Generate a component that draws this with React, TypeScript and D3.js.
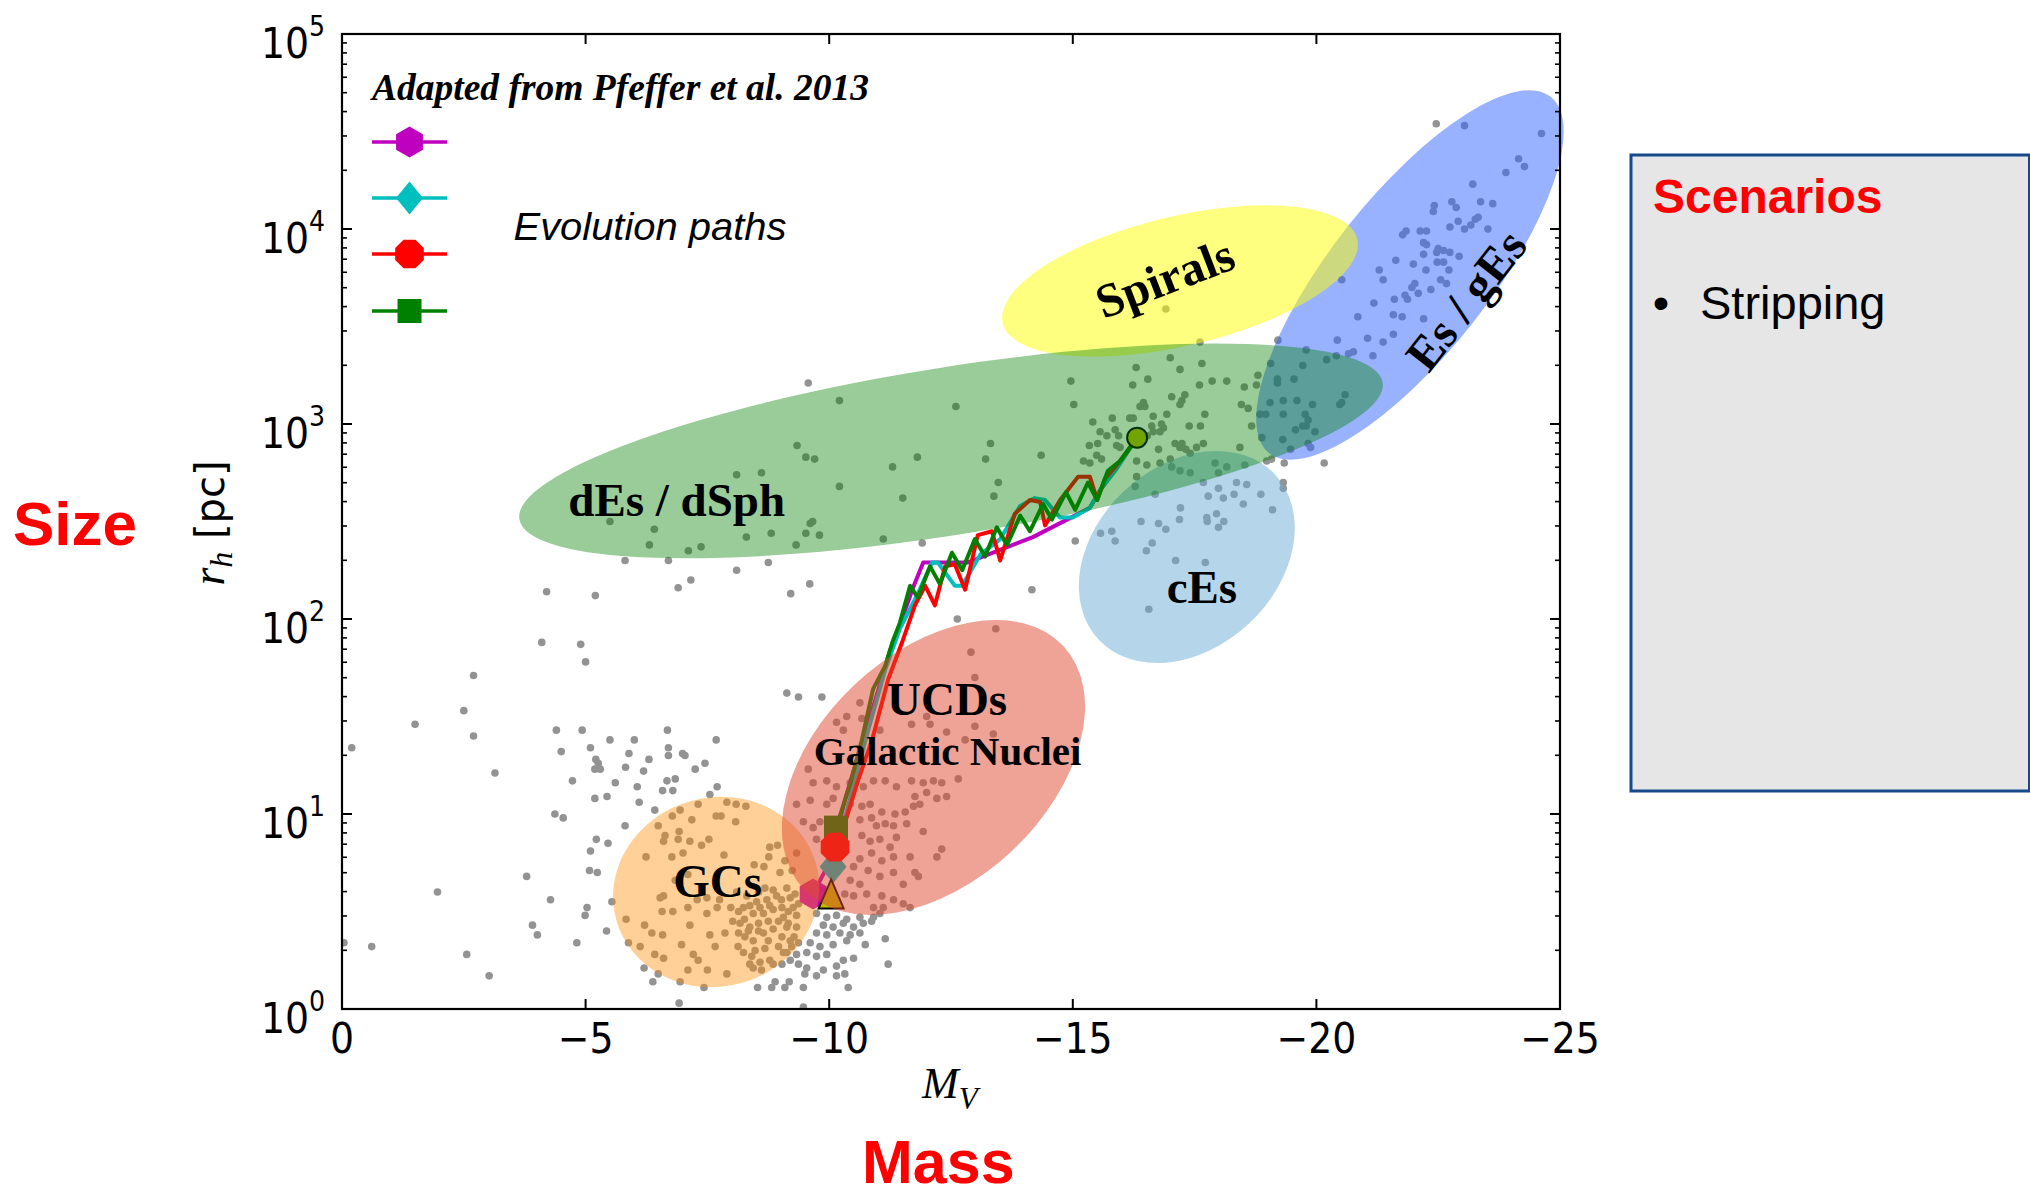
import React from "react";
import * as d3 from "d3";

// ---------- data ----------
// x: absolute V magnitude, y: log10 of the half-light radius in pc

const xTicks = [0, -5, -10, -15, -20, -25];
const yDecades = [0, 1, 2, 3, 4, 5];

// Catalogue of observed stellar systems: [M_V, log10 r_h]
const objects: [number, number][] = [
  [-4.20,2.14],[-5.20,2.12],[-6.90,2.16],[-7.16,2.20],[-8.10,2.25],[-8.75,2.29],[-9.21,2.13],[-6.70,2.30],[-5.81,2.30],
  [-4.10,1.88],[-4.90,1.87],[-5.00,1.78],[-2.70,1.71],[-2.50,1.53],[-1.50,1.46],[-2.70,1.40],[-0.20,1.34],[-3.14,1.21],
  [-4.40,1.43],[-4.93,1.43],[-4.50,1.32],[-5.10,1.34],[-5.21,1.28],[-5.26,1.26],[-5.19,1.23],[-5.30,1.23],[-5.50,1.38],[-6.00,1.38],[-5.89,1.31],[-5.82,1.24],[-6.30,1.28],[-6.19,1.22],[-6.68,1.43],[-6.70,1.34],[-6.70,1.30],[-6.99,1.31],[-7.04,1.30],[-7.68,1.38],[-7.45,1.26],[-7.25,1.23],[-4.73,1.17],[-5.61,1.16],[-6.06,1.14],[-6.67,1.17],[-6.84,1.18],[-6.58,1.12],[-6.79,1.12],[-7.70,1.14],[-7.55,1.10],[-5.19,1.08],[-5.44,1.09],[-6.10,1.06],[-6.42,1.02],
  [-9.13,1.62],[-9.37,1.60],
  [-4.37,1.00],[-4.54,0.98],[-5.22,0.87],[-5.46,0.85],[-5.81,0.94],[-5.10,0.81],[-5.08,0.71],[-5.24,0.70],[-3.79,0.68],[-1.96,0.60],[-4.28,0.56],[-5.54,0.55],[-5.03,0.52],[-4.99,0.48],[-3.91,0.43],[-4.01,0.38],[-5.43,0.40],[-4.82,0.34],[-0.04,0.34],[-0.61,0.32],[-2.56,0.28],[-3.02,0.17],[-5.88,0.34],
  [-6.94,1.02],[-7.31,1.05],[-7.90,1.06],[-8.09,1.05],[-8.29,1.04],[-6.78,0.99],[-7.18,0.97],[-7.68,0.99],[-7.78,0.99],[-8.08,0.96],[-6.49,0.94],[-6.63,0.89],[-6.92,0.91],[-6.60,0.86],[-6.90,0.87],[-7.14,0.86],[-7.38,0.84],[-7.53,0.87],[-6.24,0.78],[-6.77,0.78],[-7.00,0.80],[-7.84,0.79],[-8.78,0.83],[-8.94,0.84],[-8.76,0.78],[-8.46,0.74],[-8.66,0.73],[-8.99,0.70],[-9.09,0.76],[-9.24,0.71],[-9.33,0.80],
  [-6.84,0.66],[-7.10,0.69],[-6.53,0.57],[-6.60,0.58],[-7.29,0.56],[-7.49,0.57],[-7.75,0.56],[-6.57,0.50],[-6.79,0.50],[-7.10,0.52],[-7.49,0.49],[-7.70,0.52],[-7.98,0.52],[-8.14,0.50],[-8.37,0.53],[-8.51,0.55],[-8.72,0.56],[-8.92,0.58],[-9.13,0.62],[-9.30,0.59],
  [-5.83,0.46],[-6.21,0.43],[-6.36,0.39],[-6.58,0.38],[-7.14,0.43],[-7.55,0.38],[-7.86,0.39],[-8.02,0.45],[-8.26,0.46],[-8.44,0.49],[-8.65,0.49],[-8.85,0.51],[-9.06,0.47],[-9.26,0.52],
  [-6.12,0.32],[-6.42,0.28],[-6.60,0.26],[-6.97,0.33],[-7.21,0.28],[-7.31,0.25],[-7.66,0.32],[-8.13,0.32],[-8.27,0.37],[-8.44,0.35],[-8.65,0.39],[-8.85,0.41],[-9.13,0.42],[-9.28,0.37],
  [-6.20,0.21],[-6.49,0.18],[-7.10,0.20],[-7.50,0.20],[-7.90,0.18],[-8.41,0.27],[-8.44,0.21],[-8.58,0.24],[-8.78,0.25],[-8.85,0.23],[-9.06,0.29],[-9.23,0.32],
  [-6.38,0.14],[-6.94,0.14],[-7.43,0.11],[-8.53,0.11],[-8.82,0.11],[-8.89,0.14],[-9.09,0.11],[-9.18,0.14],[-6.92,0.03],
  [-8.10,0.60],[-8.31,0.58],[-8.55,0.60],[-8.68,0.62],[-8.85,0.61],[-9.02,0.56],[-9.20,0.57],[-9.37,0.54],[-8.24,0.52],[-8.58,0.52],[-8.78,0.53],[-9.03,0.52],[-9.16,0.50],[-9.33,0.48],[-8.17,0.44],[-8.37,0.42],[-8.55,0.44],[-8.75,0.45],[-8.96,0.45],[-9.16,0.44],[-9.33,0.42],[-8.14,0.39],[-8.34,0.40],[-8.55,0.40],[-8.75,0.35],[-9.03,0.37],[-9.20,0.35],[-9.37,0.34],[-8.24,0.29],[-8.48,0.30],[-8.68,0.31],[-8.96,0.32],[-9.13,0.29],[-9.33,0.28],[-8.37,0.23],[-8.61,0.20],[-9.03,0.23],[-9.20,0.25],[-9.37,0.23],
  [-9.85,1.60],[-12.91,1.83],[-12.99,1.70],
  [-10.63,1.57],[-10.36,1.50],[-10.15,1.47],[-10.29,1.43],[-10.67,1.49],[-12.07,1.46],[-12.00,1.50],[-12.41,1.42],[-12.79,1.38],[-12.99,1.45],[-13.37,1.41],[-11.69,1.46],[-11.04,1.43],
  [-9.57,1.23],[-9.67,1.16],[-9.95,1.17],[-10.15,1.14],[-10.43,1.16],[-10.70,1.14],[-10.91,1.17],[-11.15,1.17],[-11.38,1.14],[-11.69,1.17],[-11.93,1.16],[-12.14,1.17],[-12.31,1.16],[-12.65,1.18],[-12.41,1.09],[-12.21,1.08],[-12.00,1.11],[-11.76,1.09],
  [-9.33,1.05],[-9.61,1.07],[-9.95,1.05],[-10.08,1.08],[-10.43,1.05],[-10.67,1.04],[-10.84,1.05],[-11.08,1.01],[-11.35,1.00],[-11.56,1.01],[-11.73,1.04],[-11.86,1.05],
  [-9.47,0.96],[-9.67,0.93],[-9.81,0.96],[-10.63,0.97],[-10.87,0.98],[-10.97,0.94],[-11.15,0.95],[-11.32,0.94],[-11.59,0.95],[-11.38,0.88],[-11.25,0.83],[-11.93,0.91],[-12.31,0.82],[-12.21,0.78],
  [-9.74,0.87],[-10.67,0.89],[-10.84,0.86],[-11.04,0.87],[-11.66,0.78],[-11.32,0.78],[-11.08,0.76],[-10.87,0.80],[-10.63,0.77],[-10.50,0.73],[-10.80,0.71],[-11.04,0.68],[-11.32,0.70],[-11.52,0.64],[-11.76,0.70],[-11.83,0.68],[-10.63,0.64],[-10.43,0.66],[-10.32,0.59],[-10.50,0.58],[-10.77,0.59],[-11.08,0.58],[-11.32,0.56],[-11.52,0.54],[-11.11,0.52],[-11.66,0.52],[-10.91,0.52],
  [-9.74,0.49],[-9.95,0.47],[-10.15,0.48],[-10.36,0.46],[-10.63,0.47],[-10.91,0.47],[-11.04,0.49],[-9.88,0.43],[-10.08,0.42],[-10.29,0.44],[-10.50,0.42],[-10.70,0.44],[-10.87,0.45],[-9.74,0.39],[-9.95,0.38],[-10.22,0.39],[-10.43,0.38],[-10.63,0.39],[-11.15,0.36],[-9.61,0.34],[-9.81,0.32],[-10.08,0.33],[-10.36,0.35],[-10.74,0.33],[-9.54,0.29],[-9.74,0.27],[-9.95,0.28],[-10.29,0.25],[-10.50,0.26],[-9.54,0.21],[-9.88,0.20],[-10.15,0.22],[-10.32,0.18],[-11.21,0.23],[-9.47,0.11],[-9.74,0.17],[-9.50,0.18],[-10.39,0.11],[-10.15,0.17],[-9.47,0.01],
  [-13.42,1.95],
  [-16.91,3.59],[-17.61,3.42],[-17.00,3.34],[-17.65,3.31],[-17.20,3.28],[-16.30,3.29],[-16.54,3.23],[-16.23,3.20],[-14.96,3.22],[-15.02,3.10],[-12.60,3.09],[-17.86,3.22],[-18.16,3.22],[-17.60,3.20],[-17.03,3.14],[-17.30,3.15],[-17.24,3.12],[-17.20,3.10],[-16.45,3.11],[-16.38,3.09],[-16.48,3.09],[-17.71,3.05],[-16.93,3.05],[-16.65,3.04],[-16.17,3.03],[-16.24,3.03],[-15.81,3.03],[-15.41,3.01],[-16.62,2.99],[-16.82,3.00],[-17.39,2.99],[-17.62,2.99],[-15.87,2.97],[-15.56,2.96],[-15.70,2.94],[-15.94,2.94],[-16.65,2.96],[-16.79,2.96],[-16.86,2.98],[-16.53,2.94],[-17.10,2.90],[-17.24,2.90],[-17.68,2.90],[-15.34,2.89],[-15.51,2.90],[-15.90,2.89],[-15.97,2.88],[-16.76,2.87],[-17.00,2.82],[-17.32,2.87],[-17.41,2.85],[-17.20,2.88],[-17.54,2.88],[-13.31,2.90],[-11.81,2.83],[-14.35,2.84],[-13.21,2.82],[-11.30,2.78],[-15.22,2.81],[-15.35,2.80],[-15.49,2.84],[-15.59,2.82],[-16.31,2.81],[-16.52,2.79],[-16.79,2.80],[-17.03,2.78],[-17.20,2.76],[-17.41,2.75],[-17.92,2.80],[-18.16,2.78],[-13.47,2.70],[-11.51,2.62],[-13.38,2.63],[-16.31,2.73],[-16.28,2.68],[-11.11,2.41],[-11.91,2.39],[-15.05,2.40],[-14.16,2.15],[-12.63,2.00],
  [-16.69,2.64],[-17.68,2.70],[-17.99,2.75],[-17.99,2.67],[-17.78,2.63],[-18.09,2.62],[-17.21,2.57],[-17.19,2.51],[-16.40,2.50],[-16.76,2.49],[-16.91,2.46],[-17.75,2.52],[-17.95,2.54],[-18.10,2.50],[-17.99,2.47],[-17.76,2.50],[-15.57,2.44],[-15.80,2.45],[-15.87,2.40],[-16.63,2.39],[-16.51,2.35],[-17.11,2.30],[-17.72,2.29],[-16.56,2.05],
  [-18.36,2.70],[-18.57,2.69],[-18.31,2.64],[-18.50,2.59],[-18.86,2.64],[-19.10,2.56],[-19.32,2.70],[-19.32,2.67],
  [-22.46,4.54],[-23.04,4.53],[-24.62,4.49],[-24.15,4.36],[-24.27,4.32],[-23.89,4.29],[-23.21,4.23],[-22.42,4.12],[-22.40,4.09],[-22.78,4.14],[-22.87,4.11],[-23.37,4.14],[-23.62,4.13],[-23.32,4.06],[-23.26,4.05],[-23.17,4.02],[-22.91,4.04],[-22.74,4.01],[-23.04,4.00],[-23.52,4.00],[-22.26,3.99],[-22.13,3.99],[-21.77,3.97],[-21.84,3.99],[-22.20,3.93],[-22.26,3.92],[-22.50,3.90],[-22.61,3.89],[-22.74,3.88],[-22.47,3.88],[-22.20,3.87],[-22.93,3.86],[-21.63,3.84],[-21.99,3.82],[-22.25,3.79],[-22.48,3.83],[-22.61,3.83],[-22.72,3.79],[-21.29,3.79],[-21.37,3.74],[-20.52,3.74],[-22.02,3.72],[-21.96,3.70],[-22.09,3.67],[-22.35,3.69],[-22.55,3.74],[-22.67,3.72],[-21.82,3.66],[-21.87,3.64],[-21.60,3.64],[-21.18,3.62],[-21.58,3.56],[-21.76,3.55],[-22.20,3.54],[-20.85,3.55],[-21.58,3.46],[-21.37,3.42],[-21.05,3.44],[-20.43,3.43],[-19.21,3.43],[-21.16,3.35],[-20.76,3.37],[-20.66,3.36],[-20.41,3.35],[-20.21,3.33],[-19.79,3.38],[-19.06,3.31],[-19.72,3.30],[-18.80,3.25],[-18.52,3.19],[-18.77,3.20],[-19.20,3.23],[-19.20,3.21],[-19.54,3.23],[-20.59,3.15],[-20.48,3.10],[-20.52,3.11],[-19.92,3.10],[-19.60,3.12],[-19.32,3.12],[-19.05,3.11],[-18.46,3.10],[-18.60,3.08],[-18.84,3.05],[-18.96,3.05],[-19.32,3.05],[-19.77,3.05],[-19.83,3.02],[-19.79,2.99],[-19.57,2.97],[-19.72,2.99],[-19.97,2.96],[-18.67,2.99],[-18.88,2.93],[-19.31,2.92],[-19.47,2.87],[-19.83,2.90],[-19.88,2.88],[-18.43,2.88],[-18.98,2.81],[-19.08,2.82],[-19.34,2.80],[-20.16,2.80],[-18.53,2.79],
  [-9.57,3.21],[-10.21,3.12],[-9.34,2.89],[-9.52,2.83],[-9.70,2.82],[-8.10,2.74],[-8.61,2.75],[-10.21,2.68],[-5.50,2.50],[-6.41,2.46],[-9.61,2.49],[-9.66,2.50],[-9.52,2.44],[-9.80,2.43],[-8.81,2.44],[-8.30,2.42],[-6.31,2.38],[-7.11,2.35],[-7.37,2.37],[-9.32,2.38],[-9.60,2.18],
];

// Stripping tracks, [M_V, log10 r_h]
const trackMagenta: [number, number][] = [
  [-9.67,0.59],[-10.02,0.76],[-10.32,1.07],[-10.63,1.33],[-10.94,1.58],[-11.25,1.84],[-11.41,1.94],[-11.72,2.16],[-11.93,2.29],[-12.85,2.29],[-14.18,2.42],[-15.35,2.57],[-15.56,2.66],[-15.91,2.78],[-16.32,2.93],
];
const trackCyan: [number, number][] = [
  [-10.08,0.73],[-10.18,0.84],[-10.47,1.12],[-10.80,1.43],[-11.15,1.74],[-11.45,1.95],[-11.82,2.13],[-12.11,2.29],[-12.23,2.29],[-12.58,2.17],[-12.73,2.17],[-13.10,2.33],[-13.51,2.41],[-13.92,2.58],[-14.22,2.62],[-14.43,2.61],[-14.74,2.52],[-15.00,2.52],[-15.35,2.57],[-15.56,2.66],[-15.87,2.76],[-16.32,2.93],
];
const trackRed: [number, number][] = [
  [-10.12,0.83],[-10.28,0.92],[-10.59,1.17],[-10.88,1.38],[-11.21,1.69],[-11.51,1.89],[-11.76,2.07],[-11.97,2.17],[-12.17,2.07],[-12.38,2.27],[-12.58,2.28],[-12.79,2.15],[-13.05,2.43],[-13.34,2.45],[-13.51,2.30],[-13.81,2.54],[-14.12,2.61],[-14.33,2.60],[-14.43,2.48],[-14.74,2.61],[-15.11,2.73],[-15.35,2.73],[-15.50,2.61],[-15.66,2.72],[-15.97,2.81],[-16.32,2.93],
];
const trackGreen: [number, number][] = [
  [-16.32,2.93],[-15.97,2.81],[-15.72,2.76],[-15.50,2.61],[-15.31,2.70],[-15.05,2.56],[-14.86,2.65],[-14.57,2.51],[-14.39,2.59],[-14.12,2.45],[-13.92,2.53],[-13.65,2.38],[-13.44,2.47],[-13.20,2.32],[-12.99,2.41],[-12.73,2.25],[-12.52,2.34],[-12.27,2.18],[-12.07,2.27],[-11.82,2.11],[-11.66,2.17],[-11.45,1.98],[-11.31,1.89],[-11.15,1.76],[-10.90,1.64],[-10.67,1.38],[-10.43,1.15],[-10.14,0.93],
];

// Remnants and progenitor, [M_V, log10 r_h]
const remnantMagenta: [number, number] = [-9.67, 0.59];
const remnantCyan: [number, number] = [-10.08, 0.73];
const remnantGreen: [number, number] = [-10.14, 0.93];
const remnantRed: [number, number] = [-10.12, 0.83];
const observedObject: [number, number] = [-10.04, 0.59];
const progenitor: [number, number] = [-16.32, 2.93];

// Population regions: centre [M_V, log10 r_h], semi-axes in magnitudes, tilt in degrees
const regionNames = ["Es", "Spirals", "cEs", "dEs", "GCs", "UCDs"];
const regionCentres: [number, number][] = [
  [-21.92, 3.764], [-17.20, 3.733], [-17.34, 2.318], [-12.50, 2.862], [-7.68, 0.60], [-12.14, 1.238],
];
const regionAxes: [number, number][] = [
  [4.66, 1.62], [3.74, 1.33], [2.48, 1.87], [8.97, 1.72], [2.13, 1.94], [3.65, 2.35],
];
const regionTilt = [51.7, 13.3, 43.1, 9.0, 15.5, 43.1];

// ---------- styling ----------
const W = 2030;
const H = 1197;
const frame = { left: 342, right: 1560, top: 34, bottom: 1009 };

const regionFill: Record<string, [string, number]> = {
  Es: ["#3366ff", 0.5],
  Spirals: ["#ffff00", 0.5],
  cEs: ["#6baed6", 0.5],
  dEs: ["#008000", 0.4],
  GCs: ["#ff8c00", 0.4],
  UCDs: ["#de482e", 0.5],
};

const C_MAG = "#bf00bf";
const C_CYAN = "#00bfbf";
const C_RED = "#ff0000";
const C_GREEN = "#008000";
const C_YEL = "#bfbf00";

const tickFont = "'DejaVu Sans', 'Liberation Sans', sans-serif";
const serifFont = "'Liberation Serif', 'Times New Roman', serif";
const sansFont = "'Liberation Sans', Arial, sans-serif";

function polygon(n: number, r: number, start: number) {
  const pts: string[] = [];
  for (let i = 0; i < n; i++) {
    const a = ((start + (360 / n) * i) * Math.PI) / 180;
    pts.push(`${(r * Math.cos(a)).toFixed(2)},${(r * Math.sin(a)).toFixed(2)}`);
  }
  return pts.join(" ");
}

const hexagonPts = polygon(6, 15.5, -90);
const octagonPts = polygon(8, 15.5, -90 + 22.5);
const diamondPts = "0,-16.5 13.5,0 0,16.5 -13.5,0";
const trianglePts = "0,-14.5 12.5,14.5 -12.5,14.5";

function Marker({ kind, color, cx, cy }: { kind: string; color: string; cx: number; cy: number }) {
  const t = `translate(${cx},${cy})`;
  if (kind === "hexagon") return <polygon points={hexagonPts} transform={t} fill={color} />;
  if (kind === "octagon") return <polygon points={octagonPts} transform={t} fill={color} />;
  if (kind === "diamond") return <polygon points={diamondPts} transform={t} fill={color} />;
  if (kind === "square") return <rect x={-12} y={-12} width={24} height={24} transform={t} fill={color} />;
  if (kind === "triangle")
    return <polygon points={trianglePts} transform={t} fill={color} stroke="#000" strokeWidth={2} strokeLinejoin="miter" />;
  return <circle cx={cx} cy={cy} r={10} fill={color} stroke="#000" strokeWidth={2} />;
}

export default function App() {
  const x = d3.scaleLinear().domain([0, -25]).range([frame.left, frame.right]);
  const y = d3.scaleLog().domain([1, 1e5]).range([frame.bottom, frame.top]);
  const X = (p: [number, number]) => x(p[0]);
  const Y = (p: [number, number]) => y(Math.pow(10, p[1]));
  const line = d3
    .line<[number, number]>()
    .x((d) => X(d))
    .y((d) => Y(d));
  const unit = Math.abs(x(1) - x(0));

  const minorValues: number[] = [];
  for (let k = 0; k < 5; k++) for (let m = 2; m <= 9; m++) minorValues.push(m * Math.pow(10, k));

  const tracks: [string, [number, number][]][] = [
    [C_MAG, trackMagenta],
    [C_CYAN, trackCyan],
    [C_RED, trackRed],
    [C_GREEN, trackGreen],
  ];

  const labels: { text: string; at: [number, number]; size: number; rotate?: number }[] = [
    { text: "dEs / dSph", at: [-6.87, 2.53], size: 47 },
    { text: "Spirals", at: [-16.89, 3.749], size: 48, rotate: -21 },
    { text: "Es / gEs", at: [-23.07, 3.636], size: 48, rotate: -52 },
    { text: "cEs", at: [-17.65, 2.082], size: 47 },
    { text: "UCDs", at: [-12.42, 1.508], size: 47 },
    { text: "Galactic Nuclei", at: [-12.43, 1.251], size: 41 },
    { text: "GCs", at: [-7.71, 0.574], size: 47 },
  ];

  return (
    <svg
      width={W}
      height={H}
      viewBox={`0 0 ${W} ${H}`}
      style={{ position: "absolute", left: 0, top: 0, background: "#fff" }}
    >
      <defs>
        <clipPath id="plotArea">
          <rect x={frame.left} y={frame.top} width={frame.right - frame.left} height={frame.bottom - frame.top} />
        </clipPath>
      </defs>
      <rect x={0} y={0} width={W} height={H} fill="#fff" />

      {/* catalogue */}
      <g clipPath="url(#plotArea)">
        {objects.map((p, i) => (
          <circle key={i} cx={X(p)} cy={Y(p)} r={3.8} fill="#939393" />
        ))}
      </g>

      {/* stripping tracks */}
      <g fill="none" strokeWidth={4} strokeLinejoin="round" strokeLinecap="round">
        {tracks.map(([c, t], i) => (
          <path key={i} d={line(t) || ""} stroke={c} />
        ))}
      </g>

      {/* remnants and progenitor */}
      <Marker kind="hexagon" color={C_MAG} cx={X(remnantMagenta)} cy={Y(remnantMagenta)} />
      <Marker kind="diamond" color={C_CYAN} cx={X(remnantCyan)} cy={Y(remnantCyan)} />
      <Marker kind="square" color={C_GREEN} cx={X(remnantGreen)} cy={Y(remnantGreen)} />
      <Marker kind="octagon" color={C_RED} cx={X(remnantRed)} cy={Y(remnantRed)} />
      <Marker kind="triangle" color={C_YEL} cx={X(observedObject)} cy={Y(observedObject)} />
      <Marker kind="circle" color={C_YEL} cx={X(progenitor)} cy={Y(progenitor)} />

      {/* population regions */}
      {regionNames.map((name, i) => {
        const c = regionCentres[i];
        const cx = X(c);
        const cy = Y(c);
        const [fill, op] = regionFill[name];
        return (
          <ellipse
            key={name}
            cx={cx}
            cy={cy}
            rx={regionAxes[i][0] * unit}
            ry={regionAxes[i][1] * unit}
            transform={`rotate(${-regionTilt[i]} ${cx} ${cy})`}
            fill={fill}
            fillOpacity={op}
          />
        );
      })}

      {/* region labels */}
      {labels.map((l) => {
        const lx = X(l.at);
        const ly = Y(l.at);
        return (
          <text
            key={l.text}
            x={lx}
            y={ly}
            textAnchor="middle"
            dominantBaseline={l.rotate ? "central" : "alphabetic"}
            transform={l.rotate ? `rotate(${l.rotate} ${lx} ${ly})` : undefined}
            fontFamily={serifFont}
            fontWeight="bold"
            fontSize={l.size}
            fill="#000"
          >
            {l.text}
          </text>
        );
      })}

      {/* axes frame */}
      <rect
        x={frame.left}
        y={frame.top}
        width={frame.right - frame.left}
        height={frame.bottom - frame.top}
        fill="none"
        stroke="#000"
        strokeWidth={2.2}
      />
      <g stroke="#000" strokeWidth={2}>
        {xTicks.map((t) => (
          <g key={t}>
            <line x1={x(t)} x2={x(t)} y1={frame.bottom} y2={frame.bottom - 10} />
            <line x1={x(t)} x2={x(t)} y1={frame.top} y2={frame.top + 10} />
          </g>
        ))}
        {yDecades.map((d) => (
          <g key={d}>
            <line x1={frame.left} x2={frame.left + 10} y1={y(Math.pow(10, d))} y2={y(Math.pow(10, d))} />
            <line x1={frame.right} x2={frame.right - 10} y1={y(Math.pow(10, d))} y2={y(Math.pow(10, d))} />
          </g>
        ))}
        {minorValues.map((v) => (
          <g key={v} strokeWidth={1.6}>
            <line x1={frame.left} x2={frame.left + 5} y1={y(v)} y2={y(v)} />
            <line x1={frame.right} x2={frame.right - 5} y1={y(v)} y2={y(v)} />
          </g>
        ))}
      </g>

      {/* tick labels */}
      <g fontFamily={tickFont} fontSize={42} fill="#000" style={{ fontStretch: "condensed" }}>
        {xTicks.map((t) => (
          <text key={t} x={x(t)} y={frame.bottom + 44} textAnchor="middle">
            {t === 0 ? "0" : `\u2212${Math.abs(t)}`}
          </text>
        ))}
        {yDecades.map((d) => (
          <text key={d} x={frame.left - 17} y={y(Math.pow(10, d)) + 24} textAnchor="end">
            10
            <tspan dy={-22} fontSize={28}>
              {d}
            </tspan>
          </text>
        ))}
      </g>

      {/* axis titles */}
      <text x={922} y={1098} fontFamily={serifFont} fontStyle="italic" fontSize={44} fill="#000">
        M
        <tspan dy={11} fontSize={31}>
          V
        </tspan>
      </text>
      <text
        x={224}
        y={523}
        transform="rotate(-90 224 523)"
        textAnchor="middle"
        fill="#000"
      >
        <tspan fontFamily={serifFont} fontStyle="italic" fontSize={46}>
          r
        </tspan>
        <tspan fontFamily={serifFont} fontStyle="italic" fontSize={32} dy={8}>
          h
        </tspan>
        <tspan fontFamily={tickFont} fontSize={40} dy={-8}>
          {" [pc]"}
        </tspan>
      </text>

      {/* legend */}
      <text
        x={372}
        y={100}
        fontFamily={serifFont}
        fontStyle="italic"
        fontWeight="bold"
        fontSize={38}
        textLength={497}
        lengthAdjust="spacingAndGlyphs"
        fill="#000"
      >
        Adapted from Pfeffer et al. 2013
      </text>
      {[
        ["hexagon", C_MAG, 142],
        ["diamond", C_CYAN, 198],
        ["octagon", C_RED, 254],
        ["square", C_GREEN, 311],
      ].map(([kind, c, ly]) => (
        <g key={kind as string}>
          <line x1={372} x2={447} y1={ly as number} y2={ly as number} stroke={c as string} strokeWidth={3.5} />
          <Marker kind={kind as string} color={c as string} cx={409.5} cy={ly as number} />
        </g>
      ))}
      <text
        x={513.5}
        y={240}
        fontFamily={sansFont}
        fontStyle="italic"
        fontSize={38}
        textLength={273}
        lengthAdjust="spacingAndGlyphs"
        fill="#000"
      >
        Evolution paths
      </text>

      {/* slide annotations */}
      <text x={13} y={545} fontFamily={sansFont} fontWeight="bold" fontSize={62} fill="#ff0000">
        Size
      </text>
      <text x={862} y={1183} fontFamily={sansFont} fontWeight="bold" fontSize={61} fill="#ff0000">
        Mass
      </text>

      <rect x={1631} y={155} width={398.5} height={636} fill="#e6e6e6" stroke="#174a8b" strokeWidth={3} />
      <text x={1653} y={213} fontFamily={sansFont} fontWeight="bold" fontSize={48} fill="#ff0000">
        Scenarios
      </text>
      <text x={1661} y={319} textAnchor="middle" fontFamily={sansFont} fontSize={47} fill="#000">
        •
      </text>
      <text x={1700} y={319} fontFamily={sansFont} fontSize={47} fill="#000">
        Stripping
      </text>
    </svg>
  );
}
